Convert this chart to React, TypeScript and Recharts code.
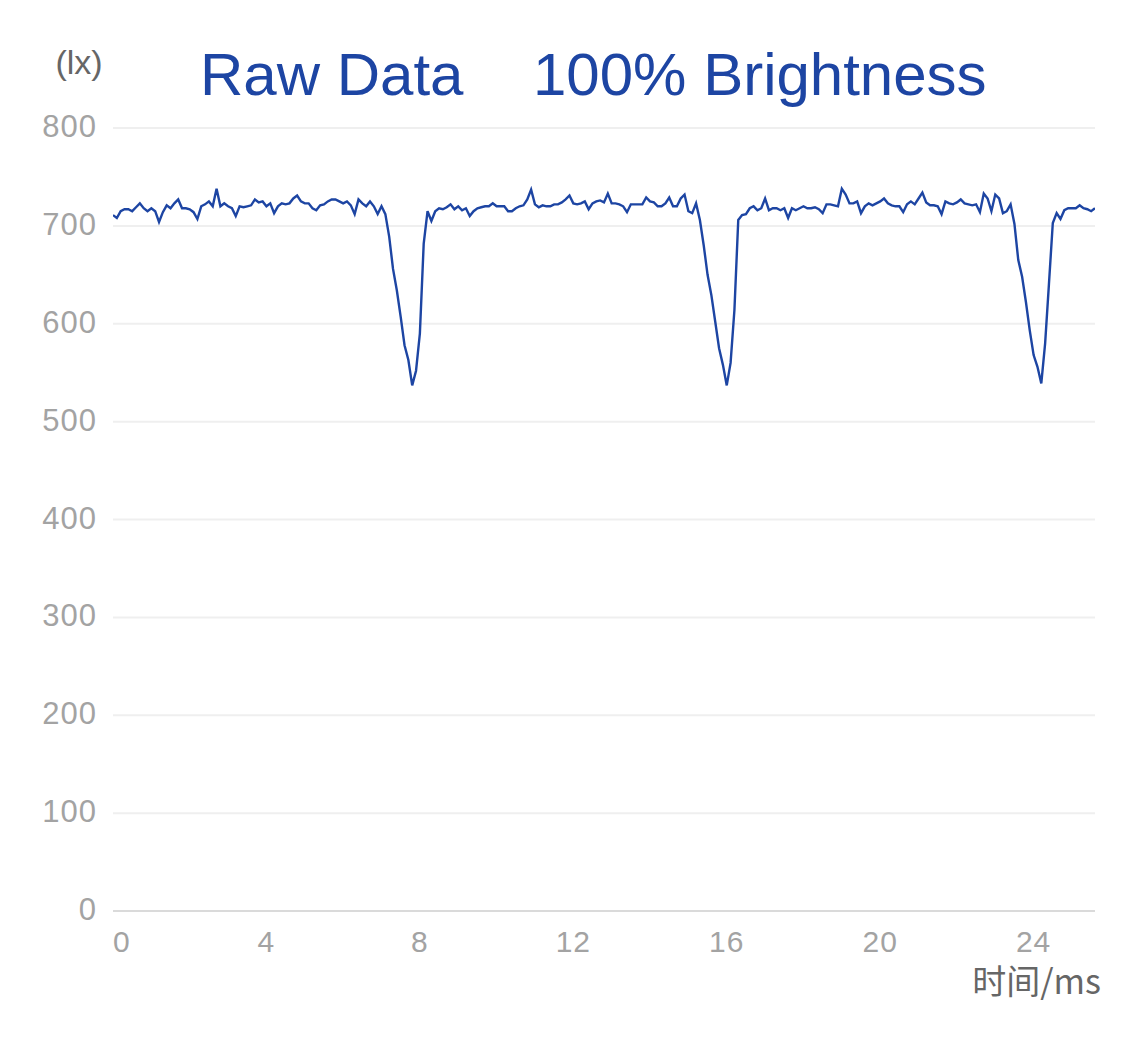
import React from 'react';
import { LineChart, Line, XAxis, YAxis, CartesianGrid } from 'recharts';

// illuminance, one value every 0.1 ms from 0 to 25.6 ms
const SAMPLE_MS = 0.1;
const luxValues = [
  711, 708, 715, 717, 717, 715, 719, 723, 718, 715,
  718, 715, 704, 714, 721, 718, 723, 727, 718, 718,
  717, 714, 707, 720, 722, 725, 720, 738, 720, 723,
  720, 718, 710, 720, 719, 720, 721, 727, 724, 725,
  720, 723, 713, 720, 723, 722, 723, 728, 731, 725,
  723, 723, 718, 716, 721, 722, 725, 727, 727, 725,
  723, 725, 721, 712, 727, 723, 720, 725, 720, 712,
  720, 712, 689, 656, 634, 607, 578, 563, 537, 552,
  590, 682, 715, 705, 715, 718, 717, 719, 722, 717,
  720, 716, 718, 710, 715, 718, 719, 720, 720, 723,
  720, 720, 720, 715, 715, 718, 720, 721, 727, 737,
  722, 719, 721, 720, 720, 722, 722, 724, 727, 731,
  723, 722, 723, 725, 717, 723, 725, 726, 724, 733,
  723, 723, 722, 720, 714, 722, 722, 722, 722, 729,
  725, 724, 720, 720, 723, 729, 720, 720, 728, 732,
  715, 713, 723, 706, 680, 650, 629, 602, 575, 558,
  537, 560, 614, 706, 711, 712, 718, 720, 716, 718,
  728, 716, 718, 718, 716, 718, 708, 718, 716, 718,
  720, 718, 718, 719, 717, 713, 722, 722, 721, 720,
  738, 732, 723, 723, 725, 713, 720, 723, 721, 723,
  725, 728, 723, 721, 720, 720, 714, 722, 725, 722,
  728, 734, 724, 721, 721, 720, 712, 725, 723, 722,
  724, 727, 723, 722, 721, 722, 714, 733, 728, 715,
  732, 728, 713, 715, 722, 702, 665, 648, 622, 593,
  568, 556, 539, 580, 641, 703, 713, 707, 716, 718,
  718, 718, 721, 718, 717, 715, 718,
];

const xTicks = [0, 4, 8, 12, 16, 20, 24];
const yTicks = [0, 100, 200, 300, 400, 500, 600, 700, 800];

const data = luxValues.map((v, i) => ({ t: Math.round(i * SAMPLE_MS * 10) / 10, lux: v }));

const TICK_FONT = '"Liberation Sans", Arial, sans-serif';
const BLUE = '#1d45a3';

const XTick = (props: any) => {
  const { x, y, payload } = props;
  const first = payload.value === 0;
  return (
    <text
      x={x}
      y={y + 33}
      textAnchor={first ? 'start' : 'middle'}
      fill="#a3a3a3"
      fontSize={30}
      fontFamily={TICK_FONT}
      letterSpacing={1}
    >
      {payload.value}
    </text>
  );
};

const YTick = (props: any) => {
  const { x, y, payload } = props;
  return (
    <text
      x={x - 8}
      y={y + 9}
      textAnchor="end"
      fill="#a3a3a3"
      fontSize={31}
      fontFamily={TICK_FONT}
      letterSpacing={1}
    >
      {payload.value}
    </text>
  );
};

export default function App() {
  return (
    <div style={{ position: 'absolute', left: 0, top: 0, width: 1125, height: 1040, background: '#fff' }}>
      <LineChart
        width={1125}
        height={1040}
        data={data}
        margin={{ top: 128, right: 30, bottom: 69, left: 13 }}
      >
        <CartesianGrid vertical={false} stroke="#efefef" strokeWidth={2} />
        <XAxis
          dataKey="t"
          type="number"
          domain={[0, 25.6]}
          ticks={xTicks}
          interval={0}
          allowDataOverflow
          height={60}
          axisLine={{ stroke: '#dadada', strokeWidth: 2 }}
          tickLine={false}
          tick={<XTick />}
        />
        <YAxis
          domain={[0, 800]}
          ticks={yTicks}
          interval={0}
          width={100}
          axisLine={false}
          tickLine={false}
          tick={<YTick />}
        />
        <Line
          type="linear"
          dataKey="lux"
          stroke={BLUE}
          strokeWidth={2.4}
          dot={false}
          isAnimationActive={false}
        />
      </LineChart>
      <svg
        width={1125}
        height={1040}
        style={{ position: 'absolute', left: 0, top: 0, pointerEvents: 'none' }}
      >
        <text x={200} y={95} fill={BLUE} fontSize={60} fontFamily={TICK_FONT}>Raw Data</text>
        <text x={533} y={95} fill={BLUE} fontSize={60} fontFamily={TICK_FONT}>100% Brightness</text>
        <text x={79} y={74} textAnchor="middle" fill="#666" fontSize={34} fontFamily={TICK_FONT}>(lx)</text>
        <text
          x={1101}
          y={994}
          textAnchor="end"
          fill="#666"
          fontSize={34}
          fontFamily={'"Noto Sans CJK SC", "Liberation Sans", sans-serif'}
        >
          时间/ms
        </text>
      </svg>
    </div>
  );
}
